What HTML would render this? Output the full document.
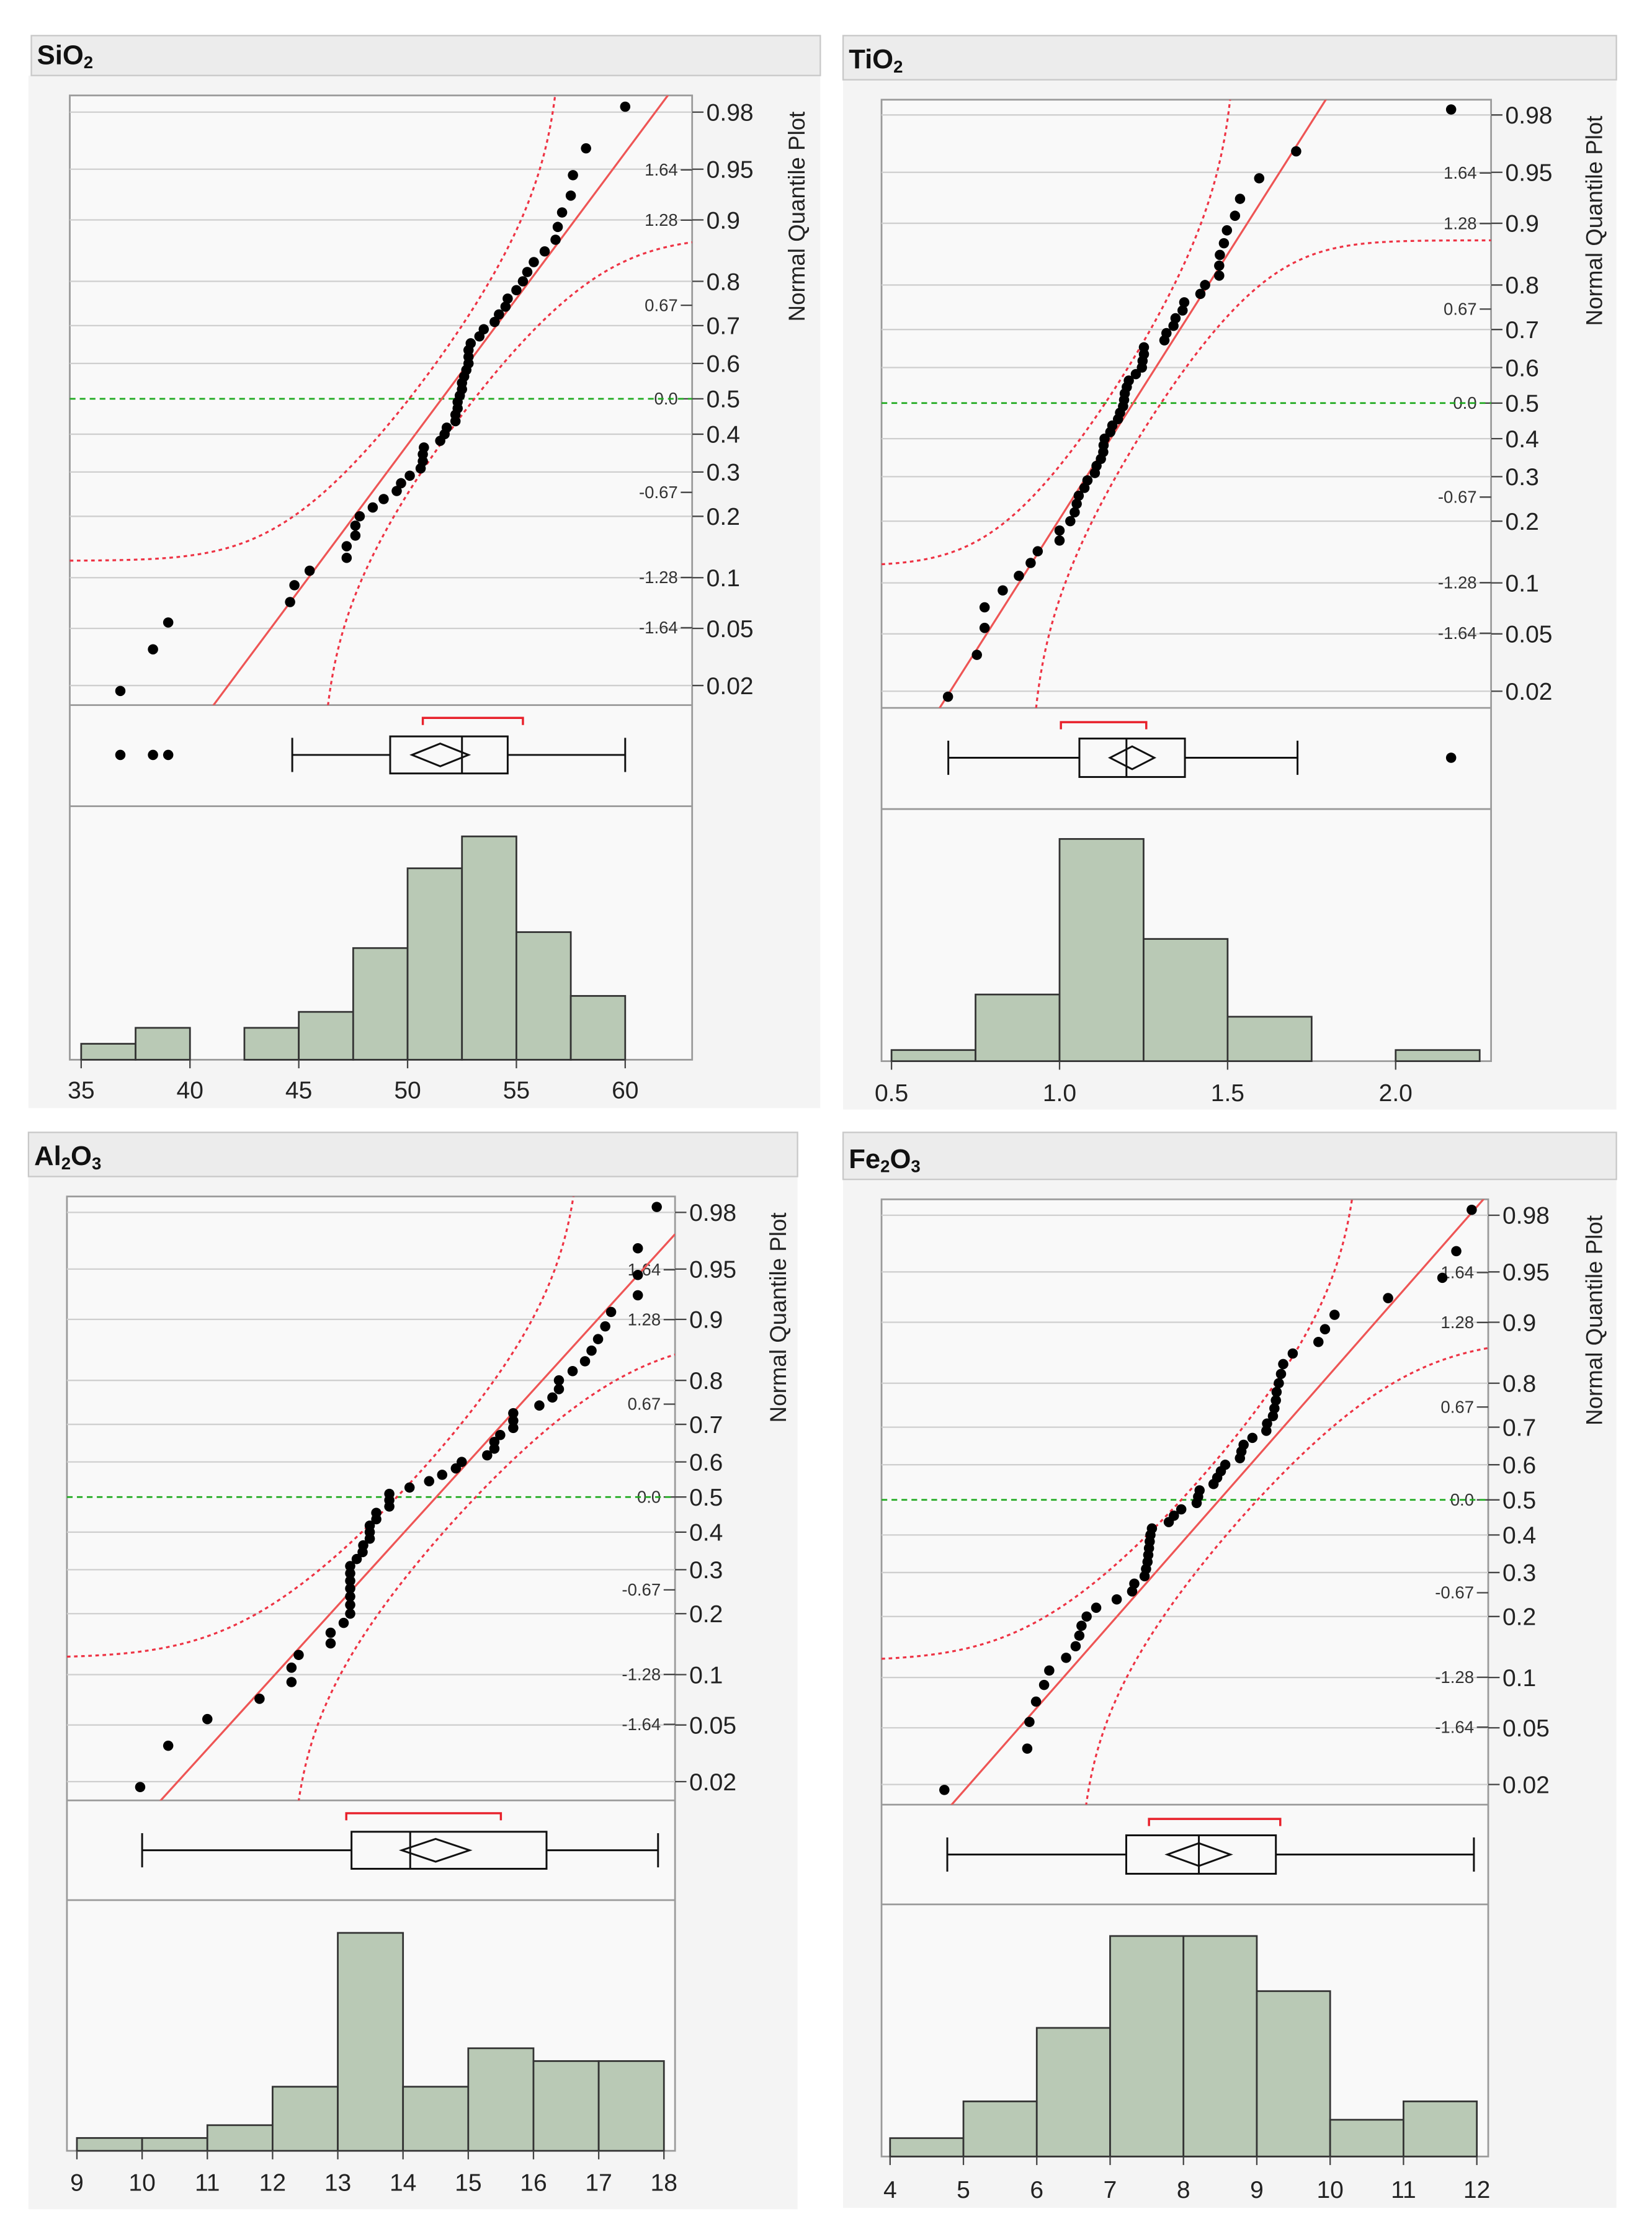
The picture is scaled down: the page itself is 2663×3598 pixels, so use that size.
<!DOCTYPE html>
<html><head><meta charset="utf-8"><title>Distributions</title>
<style>
html,body{margin:0;padding:0;background:#fff;}
svg{display:block;}
text{font-family:"Liberation Sans",sans-serif;}
</style></head>
<body>
<svg id="chart" width="2663" height="3598" viewBox="0 0 1160 1567" preserveAspectRatio="none" xmlns="http://www.w3.org/2000/svg"></svg>
<script>
// ---------- data ----------
const probTicks = [0.02,0.05,0.1,0.2,0.3,0.4,0.5,0.6,0.7,0.8,0.9,0.95,0.98];
const probLabels = ["0.02","0.05","0.1","0.2","0.3","0.4","0.5","0.6","0.7","0.8","0.9","0.95","0.98"];
const zTicks = [-1.64,-1.28,-0.67,0,0.67,1.28,1.64];
const zLabels = ["-1.64","-1.28","-0.67","0.0","0.67","1.28","1.64"];

const sio2Values = [36.8,38.3,39.0,44.6,44.8,45.5,47.2,47.2,47.6,47.6,47.8,48.4,48.9,49.5,49.7,50.1,50.6,50.7,50.7,50.75,51.5,51.7,51.8,52.2,52.2,52.3,52.3,52.4,52.5,52.5,52.6,52.7,52.8,52.8,52.8,52.9,53.3,53.5,54.0,54.2,54.5,54.6,55.0,55.3,55.5,55.8,56.3,56.8,56.9,57.1,57.5,57.6,58.2,60.0];
const sio2Fit = [51.57,4.78];
const sio2Box = [44.7,49.2,52.5,54.6,60.0];
const sio2Mean = [51.5,1.3];
const sio2Outliers = [36.8,38.3,39.0];
const sio2Bracket = [50.7,55.3];
const sio2Bins = [35,37.5,40,42.5,45,47.5,50,52.5,55,57.5,60];
const sio2Counts = [1,2,0,2,3,7,12,14,8,4];
const sio2Ticks = [35,40,45,50,55,60];

const tio2Values = [0.668,0.754,0.777,0.777,0.831,0.879,0.914,0.935,1.000,1.000,1.032,1.045,1.051,1.057,1.074,1.083,1.105,1.110,1.123,1.130,1.131,1.134,1.151,1.157,1.174,1.180,1.189,1.192,1.194,1.200,1.206,1.227,1.245,1.247,1.251,1.251,1.312,1.318,1.339,1.345,1.366,1.371,1.419,1.433,1.475,1.475,1.477,1.489,1.498,1.522,1.537,1.594,1.704,2.165];
const tio2Fit = [1.219,0.265];
const tio2Box = [0.669,1.059,1.199,1.373,1.708];
const tio2Mean = [1.216,0.066];
const tio2Outliers = [2.165];
const tio2Bracket = [1.004,1.258];
const tio2Bins = [0.5,0.75,1.0,1.25,1.5,1.75,2.0,2.25];
const tio2Counts = [1,6,20,11,4,0,1];
const tio2Ticks = [0.5,1.0,1.5,2.0];

const al2o3Values = [9.97,10.40,11.00,11.80,12.29,12.29,12.40,12.89,12.89,13.09,13.19,13.19,13.19,13.19,13.19,13.19,13.19,13.29,13.38,13.39,13.49,13.49,13.49,13.59,13.59,13.79,13.79,13.79,14.10,14.40,14.60,14.81,14.90,15.29,15.40,15.40,15.49,15.69,15.69,15.69,16.09,16.29,16.39,16.39,16.60,16.79,16.89,16.99,17.10,17.19,17.60,17.60,17.60,17.89];
const al2o3Fit = [14.51,1.93];
const al2o3Box = [10.0,13.21,14.11,16.2,17.91];
const al2o3Mean = [14.5,0.52];
const al2o3Outliers = [];
const al2o3Bracket = [13.13,15.5];
const al2o3Bins = [9,10,11,12,13,14,15,16,17,18];
const al2o3Counts = [1,1,2,5,17,5,8,7,7];
const al2o3Ticks = [9,10,11,12,13,14,15,16,17,18];

const fe2o3Values = [4.74,5.87,5.90,5.99,6.10,6.17,6.40,6.53,6.58,6.61,6.68,6.81,7.09,7.30,7.33,7.47,7.49,7.51,7.52,7.53,7.54,7.55,7.57,7.80,7.87,7.97,8.18,8.20,8.22,8.41,8.46,8.51,8.57,8.77,8.79,8.82,8.94,9.13,9.14,9.22,9.24,9.26,9.27,9.30,9.33,9.36,9.49,9.84,9.93,10.06,10.79,11.53,11.72,11.93];
const fe2o3Fit = [8.49,1.66];
const fe2o3Box = [4.78,7.22,8.21,9.26,11.96];
const fe2o3Mean = [8.21,0.43];
const fe2o3Outliers = [];
const fe2o3Bracket = [7.53,9.32];
const fe2o3Bins = [4,5,6,7,8,9,10,11,12];
const fe2o3Counts = [1,3,7,12,12,9,2,3];
const fe2o3Ticks = [4,5,6,7,8,9,10,11,12];

const bandD = 0.123;

// ---------- math ----------
function ncdf(z){const t=1/(1+0.2316419*Math.abs(z));const d=0.3989423*Math.exp(-z*z/2);
 let p=d*t*(0.3193815+t*(-0.3565638+t*(1.781478+t*(-1.821256+t*1.330274))));return z>0?1-p:p;}
function ninv(p){const a=[-39.6968302866538,220.946098424521,-275.928510446969,138.357751867269,-30.6647980661472,2.50662827745924],
b=[-54.4761013907209,161.585836858041,-155.698979859887,66.8013118877197,-13.2806815528857],
c=[-0.00778489400243029,-0.322396458041136,-2.40075827716184,-2.54973253934373,4.37466414146497,2.93816398269878],
d=[0.00778469570904146,0.32246712907004,2.445134137143,3.75440866190742];
const pl=0.02425;let q,r;
if(p<pl){q=Math.sqrt(-2*Math.log(p));return(((((c[0]*q+c[1])*q+c[2])*q+c[3])*q+c[4])*q+c[5])/((((d[0]*q+d[1])*q+d[2])*q+d[3])*q+1);}
if(p>1-pl){q=Math.sqrt(-2*Math.log(1-p));return-(((((c[0]*q+c[1])*q+c[2])*q+c[3])*q+c[4])*q+c[5])/((((d[0]*q+d[1])*q+d[2])*q+d[3])*q+1);}
q=p-0.5;r=q*q;return(((((a[0]*r+a[1])*r+a[2])*r+a[3])*r+a[4])*r+a[5])*q/(((((b[0]*r+b[1])*r+b[2])*r+b[3])*r+b[4])*r+1);}

// ---------- drawing ----------
const NS="http://www.w3.org/2000/svg";
const svg=document.getElementById('chart');
function el(tag,attrs,parent){const e=document.createElementNS(NS,tag);for(const k in attrs)e.setAttribute(k,attrs[k]);(parent||svg).appendChild(e);return e;}

const panels=[
 {key:'sio2',title:'SiO',sub:'2',values:sio2Values,fit:sio2Fit,box:sio2Box,mean:sio2Mean,out:sio2Outliers,br:sio2Bracket,bins:sio2Bins,counts:sio2Counts,ticks:sio2Ticks,dec:0,
  hdr:[22,25,554,28],bg:[20,53,556,725],plot:[49,67,437,428],zc:280,zs:98,boxTop:495,boxBot:566,cy:530,bh:26,brY:504,histBot:744,x0v:35,x0:57,pu:15.28,unit:11.2,lblY:765,nqpX:565},
 {key:'tio2',title:'TiO',sub:'2',values:tio2Values,fit:tio2Fit,box:tio2Box,mean:tio2Mean,out:tio2Outliers,br:tio2Bracket,bins:tio2Bins,counts:tio2Counts,ticks:tio2Ticks,dec:1,
  hdr:[592,25,543,31],bg:[592,56,543,723],plot:[619,70,428,427],zc:283,zs:98.5,boxTop:497,boxBot:568,cy:532,bh:27,brY:507,histBot:745,x0v:0.5,x0:626,pu:236,unit:7.8,lblY:767,nqpX:1125},
 {key:'al2o3',title:'Al',sub:'2',title2:'O',sub2:'3',values:al2o3Values,fit:al2o3Fit,box:al2o3Box,mean:al2o3Mean,out:al2o3Outliers,br:al2o3Bracket,bins:al2o3Bins,counts:al2o3Counts,ticks:al2o3Ticks,dec:0,
  hdr:[20,795,540,31],bg:[20,826,540,725],plot:[47,840,427,424],zc:1051,zs:97.3,boxTop:1264,boxBot:1334,cy:1299,bh:26,brY:1273,histBot:1510,x0v:9,x0:54,pu:45.8,unit:9,lblY:1532,nqpX:552},
 {key:'fe2o3',title:'Fe',sub:'2',title2:'O',sub2:'3',values:fe2o3Values,fit:fe2o3Fit,box:fe2o3Box,mean:fe2o3Mean,out:fe2o3Outliers,br:fe2o3Bracket,bins:fe2o3Bins,counts:fe2o3Counts,ticks:fe2o3Ticks,dec:0,
  hdr:[592,795,543,33],bg:[592,828,543,722],plot:[619,842,426,425],zc:1053,zs:97.3,boxTop:1267,boxBot:1337,cy:1302,bh:27,brY:1277,histBot:1514,x0v:4,x0:625,pu:51.5,unit:12.9,lblY:1537,nqpX:1125}
];

panels.forEach(P=>{
 const g=el('g',{});
 
 
 const X=v=>P.x0+(v-P.x0v)*P.pu;
 const Y=z=>P.zc-z*P.zs;
 const [px,py,pw,ph]=P.plot;
 // background
 const bg=el('rect',{x:P.bg[0],y:P.bg[1],width:P.bg[2],height:P.bg[3],fill:'#f4f4f4'},g);
 
 
 const hd=el('rect',{x:P.hdr[0],y:P.hdr[1],width:P.hdr[2],height:P.hdr[3],fill:'#ececec',stroke:'#c8c8c8','stroke-width':1},g);
 
 
 const t=el('text',{x:P.hdr[0]+4,y:P.hdr[1]+P.hdr[3]-8,'font-size':19,'font-weight':'bold',fill:'#111'},g);
 
 
 let s=P.title+'<tspan font-size="12" dy="3">'+P.sub+'</tspan>';
 if(P.title2) s+='<tspan dy="-3">'+P.title2+'</tspan><tspan font-size="12" dy="3">'+P.sub2+'</tspan>';
 t.innerHTML=s;
 // plot areas
 const pa=el('rect',{x:px,y:py,width:pw,height:P.histBot-py,fill:'#f9f9f9',stroke:'#9a9a9a','stroke-width':1.2},g);
 
 
 el('line',{x1:px,x2:px+pw,y1:py+ph,y2:py+ph,stroke:'#9a9a9a','stroke-width':1.2},g);
 el('line',{x1:px,x2:px+pw,y1:P.boxBot,y2:P.boxBot,stroke:'#9a9a9a','stroke-width':1.2},g);
 const clipId='clip-'+P.key;
 const cp=el('clipPath',{id:clipId},g);
 el('rect',{x:px,y:py,width:pw,height:ph},cp);
 // grid + right axis
 probTicks.forEach((p,i)=>{
  const y=Y(ninv(p));
  if(p!==0.5){const gl=el('line',{x1:px,x2:px+pw,y1:y,y2:y,stroke:'#cfcfcf','stroke-width':1},g);
   
   }
  el('line',{x1:px+pw,x2:px+pw+8,y1:y,y2:y,stroke:'#444','stroke-width':1},g);
  const lb=el('text',{x:px+pw+10,y:y+6,'font-size':17,fill:'#222'},g);
  
  
  lb.textContent=probLabels[i];
 });
 zTicks.forEach((z,i)=>{
  const y=Y(z);
  el('line',{x1:px+pw-8,x2:px+pw,y1:y,y2:y,stroke:'#444','stroke-width':1},g);
  const lb=el('text',{x:px+pw-10,y:y+4,'font-size':12,fill:'#333','text-anchor':'end'},g);
  
  
  lb.textContent=zLabels[i];
 });
 const gz=el('line',{x1:px,x2:px+pw,y1:Y(0),y2:Y(0),stroke:'#1faa1f','stroke-width':1.2,'stroke-dasharray':'4,3'},g);
 
 
 const nq=el('text',{x:P.nqpX,y:py+85,'font-size':16,fill:'#222','text-anchor':'middle',transform:'rotate(-90 '+P.nqpX+' '+(py+85)+')'},g);
 
 
 nq.textContent='Normal Quantile Plot';
 // fit line and bands
 const [mu,sd]=P.fit;
 const cg=el('g',{'clip-path':'url(#'+clipId+')'},g);
 const vmin=P.x0v+(px-P.x0)/P.pu, vmax=P.x0v+(px+pw-P.x0)/P.pu;
 const fl=el('line',{x1:X(vmin),y1:Y((vmin-mu)/sd),x2:X(vmax),y2:Y((vmax-mu)/sd),stroke:'#ee5555','stroke-width':1.4},cg);
 
 
 [1,-1].forEach(sgn=>{
  let pts=[];
  for(let i=0;i<=600;i++){const v=vmin+(vmax-vmin)*i/600;const p=ncdf((v-mu)/sd)+sgn*bandD;
   if(p<=0.0002||p>=0.9998)continue;let y=Y(ninv(p));y=Math.max(py-50,Math.min(py+ph+50,y));pts.push(X(v).toFixed(2)+','+y.toFixed(2));}
  const b=el('polyline',{points:pts.join(' '),fill:'none',stroke:'#ee3344','stroke-width':1.4,'stroke-dasharray':'2.5,2.5'},cg);
  
  
 });
 // points
 const n=P.values.length;
 P.values.forEach((v,i)=>{
  const c=el('circle',{cx:X(v),cy:Y(ninv((i+1)/(n+1))),r:3.6,fill:'#000'},g);
  
  
 });
 // box plot
 const [lo,q1,md,q3,hi]=P.box, cy=P.cy, hb=P.bh/2;
 const bx=el('g',{stroke:'#111','stroke-width':1.3,fill:'none'},g);
 
 
 el('line',{x1:X(lo),x2:X(q1),y1:cy,y2:cy},bx);
 el('line',{x1:X(q3),x2:X(hi),y1:cy,y2:cy},bx);
 el('line',{x1:X(lo),x2:X(lo),y1:cy-12,y2:cy+12},bx);
 el('line',{x1:X(hi),x2:X(hi),y1:cy-12,y2:cy+12},bx);
 el('rect',{x:X(q1),y:cy-hb,width:X(q3)-X(q1),height:P.bh},bx);
 el('line',{x1:X(md),x2:X(md),y1:cy-hb,y2:cy+hb},bx);
 const [mm,mh]=P.mean;
 const dm=el('polygon',{points:[X(mm-mh)+','+cy,X(mm)+','+(cy-8),X(mm+mh)+','+cy,X(mm)+','+(cy+8)].join(' ')},bx);
 
 
 const br=el('polyline',{points:[X(P.br[0])+','+(P.brY+5),X(P.br[0])+','+P.brY,X(P.br[1])+','+P.brY,X(P.br[1])+','+(P.brY+5)].join(' '),fill:'none',stroke:'#e8202a','stroke-width':1.5},g);
 
 
 P.out.forEach(v=>{const o=el('circle',{cx:X(v),cy:cy,r:3.6,fill:'#000'},g);
  
  });
 // histogram
 P.counts.forEach((c,i)=>{
  if(c<=0)return;
  const x1=X(P.bins[i]),x2=X(P.bins[i+1]),h=c*P.unit;
  const r=el('rect',{x:x1,y:P.histBot-h,width:x2-x1,height:h,fill:'#b9c9b5',stroke:'#333','stroke-width':1.2},g);
  
  
 });
 P.ticks.forEach(v=>{
  el('line',{x1:X(v),x2:X(v),y1:P.histBot,y2:P.histBot+6,stroke:'#444','stroke-width':1},g);
  const lb=el('text',{x:X(v),y:P.lblY+6,'font-size':17,fill:'#222','text-anchor':'middle'},g);
  
  
  lb.textContent=P.dec?v.toFixed(P.dec):String(v);
 });
});
</script>
</body></html>
